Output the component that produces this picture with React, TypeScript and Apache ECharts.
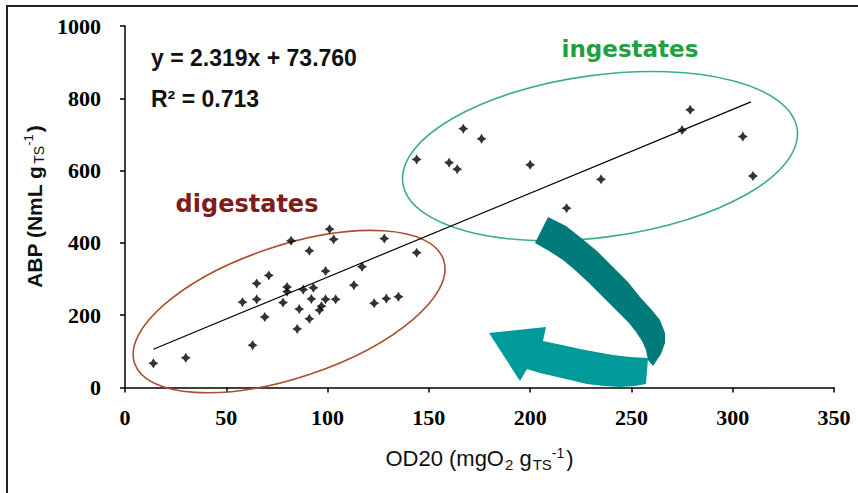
import React, { useEffect, useRef } from "react";
import * as echarts from "echarts";

// ---- data ----
const digestatesX = [14, 30, 63, 82, 91, 71, 65, 58, 65, 69, 78, 80, 80, 86, 85, 88, 93, 92, 91, 101, 103, 128, 144, 117, 99, 113, 99, 104, 97, 96, 123, 129, 135];
const digestatesY = [67, 82, 117, 406, 378, 310, 288, 236, 244, 195, 235, 278, 265, 217, 162, 271, 276, 245, 190, 438, 410, 412, 373, 334, 322, 283, 244, 244, 225, 214, 233, 246, 251];
const ingestatesX = [144, 160, 164, 167, 176, 200, 218, 235, 275, 279, 305, 310];
const ingestatesY = [631, 622, 604, 716, 688, 616, 496, 576, 712, 768, 694, 585];
const trendX = [14, 309];
const trendY = [106, 790];
const equationLines = ["y = 2.319x + 73.760", "R² = 0.713"];
const groupLabels = ["digestates", "ingestates"];
// annotation ellipse centres in data units
const ellipseCentres = [
  [81, 210],
  [234.5, 640],
];

const starPath =
  "path://M0,-5 L1.9,-1.9 L5,0 L1.9,1.9 L0,5 L-1.9,1.9 L-5,0 L-1.9,-1.9 Z";

const sans = "'Liberation Sans', Arial, sans-serif";

export default function App() {
  const ref = useRef<HTMLDivElement>(null);

  useEffect(() => {
    if (!ref.current) return;
    const chart = echarts.init(ref.current, null, { renderer: "svg" });

    const pts = [
      ...digestatesX.map((x, i) => [x, digestatesY[i]]),
      ...ingestatesX.map((x, i) => [x, ingestatesY[i]]),
    ];

    const option: any = {
      animation: false,
      backgroundColor: "#ffffff",
      grid: { left: 125, right: 24, top: 26, bottom: 105.5 },
      xAxis: {
        type: "value",
        min: 0,
        max: 350,
        interval: 50,
        splitLine: { show: false },
        axisLine: { onZero: false, lineStyle: { color: "#000", width: 1.5 } },
        axisTick: { show: true, length: 5, lineStyle: { color: "#000", width: 1.5 } },
        axisLabel: {
          margin: 19,
          color: "#000",
          fontFamily: "'Liberation Serif', serif",
          fontWeight: "bold",
          fontSize: 22,
          formatter: (v: number) => String(v),
        },
        name: "{a|OD20 (mgO}{s|2}{a| g}{s|TS}{p|-1}{a|)}",
        nameLocation: "middle",
        nameGap: 58,
        nameTextStyle: {
          rich: {
            a: { fontFamily: sans, fontSize: 22, color: "#111" },
            s: { fontFamily: sans, fontSize: 15, color: "#111", verticalAlign: "bottom", padding: [9, 0, 0, 1] },
            p: { fontFamily: sans, fontSize: 14, color: "#111", verticalAlign: "top", padding: [0, 2, 12, 0] },
          },
        },
      },
      yAxis: {
        type: "value",
        min: 0,
        max: 1000,
        interval: 200,
        splitLine: { show: false },
        axisLine: { show: true, onZero: false, lineStyle: { color: "#000", width: 1.5 } },
        axisTick: { show: true, length: 5, lineStyle: { color: "#000", width: 1.5 } },
        axisLabel: {
          margin: 24,
          color: "#000",
          fontFamily: "'Liberation Serif', serif",
          fontWeight: "bold",
          fontSize: 22,
          formatter: (v: number) => String(v),
        },
        name: "{a|ABP (NmL g}{s|TS}{p|-1}{a|)}",
        nameLocation: "middle",
        nameGap: 76,
        nameTextStyle: {
          rich: {
            a: { fontFamily: sans, fontSize: 21, fontWeight: "bold", color: "#111" },
            s: { fontFamily: sans, fontSize: 14, color: "#111", verticalAlign: "bottom", padding: [9, 0, 0, 2] },
            p: { fontFamily: sans, fontSize: 13, color: "#111", verticalAlign: "top", padding: [0, 2, 11, 0] },
          },
        },
      },
      series: [
        {
          type: "line",
          data: trendX.map((x, i) => [x, trendY[i]]),
          showSymbol: false,
          symbol: "none",
          lineStyle: { color: "#000", width: 1.2 },
          silent: true,
          z: 2,
        },
        {
          type: "scatter",
          data: pts,
          symbol: starPath,
          symbolSize: 10,
          itemStyle: { color: "#000" },
          z: 3,
        },
      ],
    };
    chart.setOption(option);

    const c1 = chart.convertToPixel({ gridIndex: 0 }, ellipseCentres[0]) as number[];
    const c2 = chart.convertToPixel({ gridIndex: 0 }, ellipseCentres[1]) as number[];

    const darkArrow = [
      [548, 217], [566, 226], [580, 237], [597, 251], [613, 267], [628, 282], [640, 297], [651, 309], [660, 320], [665, 333], [665, 343], [661, 354], [653, 366],
      [648, 360], [646, 350], [642, 341], [636, 332], [629, 323], [620, 314], [610, 304], [600, 294], [589, 283], [576, 271], [563, 260], [549, 251], [535, 243],
    ];
    const lightArrow = [
      [648, 358], [630, 357], [613, 355], [596, 352], [580, 349], [562, 345], [543, 341], [546, 327], [489, 333], [520, 381], [527, 369], [540, 373], [553, 376], [570, 380], [587, 384], [604, 386], [620, 387], [635, 386], [646, 384],
    ];

    chart.setOption({
      graphic: [
        {
          type: "rect",
          shape: { x: 7, y: 6, width: 900, height: 520 },
          style: { fill: "none", stroke: "#222", lineWidth: 2 },
          silent: true,
          z: 0,
        },
        {
          type: "ellipse",
          x: c1[0],
          y: c1[1],
          rotation: (18.5 * Math.PI) / 180,
          shape: { cx: 0, cy: 0, rx: 163, ry: 66 },
          style: { fill: "none", stroke: "#a8502f", lineWidth: 1.6 },
          silent: true,
          z: 1,
        },
        {
          type: "ellipse",
          x: c2[0],
          y: c2[1],
          rotation: (7.7 * Math.PI) / 180,
          shape: { cx: 0, cy: 0, rx: 199, ry: 81 },
          style: { fill: "none", stroke: "#3cae88", lineWidth: 1.6 },
          silent: true,
          z: 1,
        },
        {
          type: "polygon",
          shape: { points: lightArrow },
          style: { fill: "#009a9a" },
          silent: true,
          z: 5,
        },
        {
          type: "polygon",
          shape: { points: darkArrow },
          style: { fill: "#007a7a" },
          silent: true,
          z: 6,
        },
        {
          type: "text",
          x: 151,
          y: 58,
          style: {
            text: equationLines[0],
            font: `bold 23px ${sans}`,
            fill: "#111",
            verticalAlign: "middle",
            align: "left",
          },
          z: 10,
        },
        {
          type: "text",
          x: 151,
          y: 99,
          style: {
            text: equationLines[1],
            font: `bold 23px ${sans}`,
            fill: "#111",
            verticalAlign: "middle",
            align: "left",
          },
          z: 10,
        },
        {
          type: "text",
          x: 247,
          y: 204,
          style: {
            text: groupLabels[0],
            font: "bold 24px 'DejaVu Sans', sans-serif",
            fill: "#801c1c",
            verticalAlign: "middle",
            align: "center",
          },
          z: 10,
        },
        {
          type: "text",
          x: 630,
          y: 49,
          style: {
            text: groupLabels[1],
            font: "bold 23px 'DejaVu Sans', sans-serif",
            fill: "#22a040",
            verticalAlign: "middle",
            align: "center",
          },
          z: 10,
        },
      ],
    });

    return () => chart.dispose();
  }, []);

  return (
    <div
      ref={ref}
      style={{ position: "fixed", left: 0, top: 0, width: 858, height: 493, background: "#fff" }}
    />
  );
}
